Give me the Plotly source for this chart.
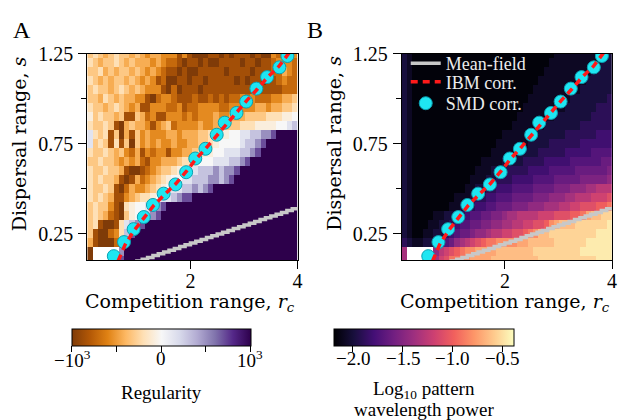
import plotly.graph_objects as go
import plotly.express as px

# ---------------- data ----------------
# row centres of the simulation grid (dispersal range s), top row first
S_ROWS = [1.25, 1.20, 1.15, 1.10, 1.05, 1.00, 0.95, 0.90, 0.85, 0.80, 0.75, 0.70,
          0.65, 0.60, 0.55, 0.50, 0.45, 0.40, 0.35, 0.30, 0.25, 0.20, 0.15, 0.10]
# competition-range grid: first column centre and spacing (40 columns)
RC_FIRST = 0.124
RC_STEP = 0.0981

# Panel A: regularity, position on the symlog colour scale (-1 = -10^3, 1 = 10^3)
REG_LEVELS = {'0': -1.0, '1': -0.86, '2': -0.72, '3': -0.57, '4': -0.44, '5': -0.32,
              '6': -0.2, '7': -0.08, '8': 0.0, 'a': 0.14, 'b': 0.3, 'c': 0.5,
              'd': 0.7, 'e': 1.0}
REG_ROWS = [
    "5654565545" "434433" "313100" "0110101110100" "32323",
    "6545565454" "443432" "210110" "1001111011011" "23332",
    "5564545545" "434321" "101001" "1111011110111" "22432",
    "6545455454" "343120" "011011" "0111110101101" "12322",
    "5655456545" "433310" "201110" "1111111111111" "11222",
    "5546545443" "310233" "211121" "1212122323222" "33445",
    "6554565434" "113332" "231223" "3332233333443" "44556",
    "7565545115" "423113" "332323" "3343344455556" "66778",
    "6556510454" "431345" "233334" "3344555666777" "788ab",
    "a656150415" "343334" "434445" "5667788aabbcc" "deeee",
    "a565161505" "343433" "433445" "5678888abbcde" "eeeee",
    "6556545324" "132331" "334456" "7788aaabbcdee" "eeeee",
    "5565543434" "213344" "456678" "88aaabbcdeeee" "eeeee",
    "6556554100" "123455" "678aab" "bbcbccdeeeeee" "eeeee",
    "6565541014" "234567" "88aabb" "bccbcdeeeeeee" "eeeee",
    "6556510243" "345678" "aabbcb" "cdeeeeeeeeeee" "eeeee",
    "6565411345" "6678aa" "bcddee" "eeeeeeeeeeeee" "eeeee",
    "5655310678" "8abcde" "eeeeee" "eeeeeeeeeeeee" "eeeee",
    "5654210578" "abcdee" "eeeeee" "eeeeeeeeeeeee" "eeeee",
    "5610016abc" "deeeee" "eeeeee" "eeeeeeeeeeeee" "eeeee",
    "5100236bde" "eeeeee" "eeeeee" "eeeeeeeeeeeee" "eeeee",
    "410002bdee" "eeeeee" "eeeeee" "eeeeeeeeeeeee" "eeeee",
    "0.....ceee" "eeeeee" "eeeeee" "eeeeeeeeeeeee" "eeeee",
    "0.....deee" "eeeeee" "eeeeee" "eeeeeeeeeeeee" "eeeee",
]

# Panel B: log10 pattern wavelength power, level index into POW_ALPHABET
POW_ALPHABET = "0123456789abcdefghij"
POW_MIN = -2.17
POW_STEP = 0.09
POW_ROWS = [
    "2100000000" "0000000000" "0000000001" "1111111112",
    "2100000000" "0000000000" "0000000011" "1111111122",
    "2100000000" "0000000000" "0000000111" "1111112222",
    "2100000000" "0000000000" "0000001111" "1111122222",
    "2100000000" "0000000000" "0000011111" "1111222222",
    "2100000000" "0000000000" "0000111111" "1122222223",
    "2100000000" "0000000000" "0001111111" "1222222333",
    "2100000000" "0000000000" "0011111112" "2222223333",
    "2100000000" "0000000000" "0111111222" "2222333333",
    "2100000000" "0000000001" "1111122222" "2333333444",
    "2100000000" "0000000011" "1111222233" "3333444444",
    "2100000000" "0000000111" "1122223333" "3444445555",
    "2100000000" "0000011112" "2223333444" "4455555566",
    "2100000000" "0000111222" "3333444455" "5556666667",
    "2100000000" "0001112233" "3444455556" "6666777778",
    "2100000000" "0011223344" "4555566667" "7788899aaa",
    "2100000000" "1112334455" "5666677788" "899aaabbbc",
    "2100000001" "1223445566" "6777888999" "aabbcccdde",
    "2100001122" "3345566778" "99aaaabbbc" "ccddeghhii",
    "2100011223" "4556677889" "9aabbccdfg" "hhhiiiiiij",
    "2100112234" "5667889aab" "bccdefhhii" "iiiiiiijjj",
    "3211223456" "89abcdeeff" "ffgghhhhhi" "iiiiijjjjj",
    "9.....8abc" "deffgggghh" "hhhhhiiiii" "iiiijjjjjj",
    "9.....9bce" "effgggghhh" "hhhhhhiiii" "iiiiiiijjj",
]

# colour-bar ranges and ticks
REG_RANGE = [-1.0, 1.0]
REG_TICKS = [-1.0, -0.5, 0.0, 0.5, 1.0]
REG_TICK_LABELS = ["−10<sup>3</sup>", "", "0", "", "10<sup>3</sup>"]
POW_RANGE = [-2.19, -0.39]
POW_TICKS = [-2.0, -1.5, -1.0, -0.5]
POW_TICK_LABELS = ["−2.0", "−1.5", "−1.0", "−0.5"]

# Mean-field prediction (staircase)
MF_RC = [0.9, 1.0, 1.1, 1.2, 1.3, 1.4, 1.5, 1.6, 1.7, 1.8, 1.9, 2.0, 2.1, 2.2, 2.3, 2.4,
         2.5, 2.6, 2.7, 2.8, 2.9, 3.0, 3.1, 3.2, 3.3, 3.4, 3.5, 3.6, 3.7, 3.8, 3.9, 4.0]
MF_S = [0.09, 0.10, 0.11, 0.12, 0.13, 0.14, 0.15, 0.16, 0.17, 0.18, 0.19, 0.20, 0.21, 0.22,
        0.23, 0.24, 0.25, 0.26, 0.27, 0.28, 0.29, 0.30, 0.31, 0.32, 0.33, 0.34, 0.35, 0.36,
        0.37, 0.38, 0.39, 0.40]
# IBM correlation boundary
IBM_RC = [0.65, 0.78, 0.95, 1.14, 1.32, 1.52, 1.73, 1.93, 2.10, 2.30, 2.50, 2.66, 2.86,
          3.05, 3.25, 3.44, 3.65, 3.84]
IBM_S = [0.10, 0.19, 0.27, 0.345, 0.41, 0.47, 0.53, 0.60, 0.665, 0.73, 0.80, 0.86, 0.925,
         0.99, 1.055, 1.12, 1.18, 1.255]
# SMD correlation boundary
SMD_RC = [0.57, 0.76, 0.94, 1.13, 1.30, 1.50, 1.72, 1.92, 2.09, 2.28, 2.49, 2.64, 2.86,
          3.04, 3.23, 3.43, 3.66, 3.81]
SMD_S = [0.127, 0.205, 0.277, 0.344, 0.411, 0.474, 0.525, 0.593, 0.669, 0.723, 0.801,
         0.868, 0.922, 0.985, 1.057, 1.121, 1.175, 1.238]

# ---------------- build ----------------
for r in REG_ROWS + POW_ROWS:
    if len(r) != 40:
        raise ValueError("row length %d: %s" % (len(r), r))

z_reg = [[None if c == '.' else REG_LEVELS[c] for c in row] for row in REG_ROWS][::-1]
z_pow = [[None if c == '.' else POW_MIN + POW_ALPHABET.index(c) * POW_STEP for c in row]
         for row in POW_ROWS][::-1]
s_rows = S_ROWS[::-1]

W, H = 625, 420
FONT = "Liberation Serif"
LFONT = "DejaVu Serif"


def px_x(v):
    return v / W


def px_y(v):
    return 1 - v / H


XA = [px_x(88), px_x(300)]
XB = [px_x(405), px_x(617)]
YD = [px_y(256), px_y(44)]

# colour bars: (centre px, length px)
CB_A = (162.5, 179)
CB_B = (427.0, 180)

cb_common = dict(orientation="h", y=px_y(327), yanchor="top", lenmode="pixels",
                 thickness=17, xpad=0, ypad=0, outlinewidth=1, outlinecolor="black",
                 ticks="outside", ticklen=6, tickcolor="black", showticklabels=False)

fig = go.Figure()

fig.add_trace(go.Heatmap(
    z=z_reg, x0=RC_FIRST, dx=RC_STEP, y=s_rows, xaxis="x", yaxis="y",
    colorscale=px.colors.diverging.PuOr, zmin=REG_RANGE[0], zmax=REG_RANGE[1],
    hoverinfo="skip",
    colorbar=dict(cb_common, x=px_x(CB_A[0]), xanchor="center", len=CB_A[1],
                  tickvals=REG_TICKS),
))
fig.add_trace(go.Heatmap(
    z=z_pow, x0=RC_FIRST, dx=RC_STEP, y=s_rows, xaxis="x2", yaxis="y2",
    colorscale=px.colors.sequential.Magma, zmin=POW_RANGE[0], zmax=POW_RANGE[1],
    hoverinfo="skip",
    colorbar=dict(cb_common, x=px_x(CB_B[0]), xanchor="center", len=CB_B[1],
                  tickvals=POW_TICKS),
))

for xa, ya, show in [("x", "y", False), ("x2", "y2", True)]:
    fig.add_trace(go.Scatter(
        x=MF_RC, y=MF_S, mode="lines", line=dict(color="#c8c8c8", width=3.5, shape="hv"),
        name="Mean-field", xaxis=xa, yaxis=ya, showlegend=show, legend="legend"))
    fig.add_trace(go.Scatter(
        x=SMD_RC, y=SMD_S, mode="markers",
        marker=dict(color="#1fe6f2", size=13, line=dict(color="#0a9fb0", width=1)),
        name="SMD corr.", xaxis=xa, yaxis=ya, showlegend=show, legend="legend3"))
    fig.add_trace(go.Scatter(
        x=IBM_RC, y=IBM_S, mode="lines", line=dict(color="#ff1a1a", width=3.5, dash="7px,5px"),
        name="IBM corr.", xaxis=xa, yaxis=ya, showlegend=show, legend="legend2"))

axis_common = dict(showgrid=False, zeroline=False, showline=True, mirror=True,
                   linecolor="black", linewidth=1, ticks="outside", ticklen=8,
                   tickwidth=1, tickcolor="black",
                   tickfont=dict(family=FONT, size=20, color="black"))
xcommon = dict(axis_common, range=[0.075, 4.0], tickvals=[2, 4], ticktext=["2", "4"],
               ticklabelstandoff=-5)
ycommon = dict(axis_common, range=[0.104, 1.25], tickvals=[0.25, 0.75, 1.25],
               ticktext=["0.25", "0.75", "1.25"], ticklabelstandoff=1,
               minor=dict(tickvals=[0.5, 1.0], ticks="outside", ticklen=5,
                          tickcolor="black", tickwidth=1))

leg_common = dict(x=px_x(409), xanchor="left", yanchor="top",
                  bgcolor="rgba(0,0,0,0)", borderwidth=0,
                  font=dict(family=FONT, size=18, color="#ececec"), itemwidth=30)

fig.update_layout(
    width=W, height=H, margin=dict(l=0, r=0, t=0, b=0),
    paper_bgcolor="white", plot_bgcolor="white",
    font=dict(family=FONT, size=18, color="black"),
    xaxis=dict(xcommon, domain=XA, anchor="y"),
    yaxis=dict(ycommon, domain=YD, anchor="x"),
    xaxis2=dict(xcommon, domain=XB, anchor="y2"),
    yaxis2=dict(ycommon, domain=YD, anchor="x2"),
    legend=dict(leg_common, y=px_y(35)),
    legend2=dict(leg_common, y=px_y(54)),
    legend3=dict(leg_common, y=px_y(76)),
    showlegend=True,
)

ann = [
    dict(text="A", x=px_x(22), y=px_y(19), size=24, fam=FONT),
    dict(text="B", x=px_x(318), y=px_y(19), size=24, fam=FONT),
    dict(text="Dispersal range, <i>s</i>", x=px_x(20), y=px_y(136), size=19, angle=-90, fam=LFONT),
    dict(text="Dispersal range, <i>s</i>", x=px_x(337), y=px_y(136), size=19, angle=-90, fam=LFONT),
    dict(text="Competition range, <i>r</i><sub><i>c</i></sub>", x=px_x(192), y=px_y(299), size=19, fam=LFONT),
    dict(text="Competition range, <i>r</i><sub><i>c</i></sub>", x=px_x(509), y=px_y(299), size=19, fam=LFONT),
    dict(text="Regularity", x=px_x(162.5), y=px_y(392), size=19, fam=FONT),
    dict(text="Log<sub>10</sub> pattern", x=px_x(427), y=px_y(389), size=19, fam=FONT),
    dict(text="wavelength power", x=px_x(427), y=px_y(409), size=19, fam=FONT),
]

# colour-bar tick labels, placed along each bar's value scale
for (centre, length), rng, ticks, labels in [(CB_A, REG_RANGE, REG_TICKS, REG_TICK_LABELS),
                                            (CB_B, POW_RANGE, POW_TICKS, POW_TICK_LABELS)]:
    left = centre - length / 2.0
    for v, lab in zip(ticks, labels):
        if not lab:
            continue
        xpix = left + (v - rng[0]) / (rng[1] - rng[0]) * length
        ann.append(dict(text=lab, x=px_x(xpix), y=px_y(357), size=19, fam=FONT))

for a in ann:
    fig.add_annotation(text=a["text"], x=a["x"], y=a["y"], xref="paper", yref="paper",
                       xanchor="center", yanchor="middle", showarrow=False,
                       textangle=a.get("angle", 0),
                       font=dict(family=a["fam"], size=a["size"], color="black"))

fig.write_html("out.html")
